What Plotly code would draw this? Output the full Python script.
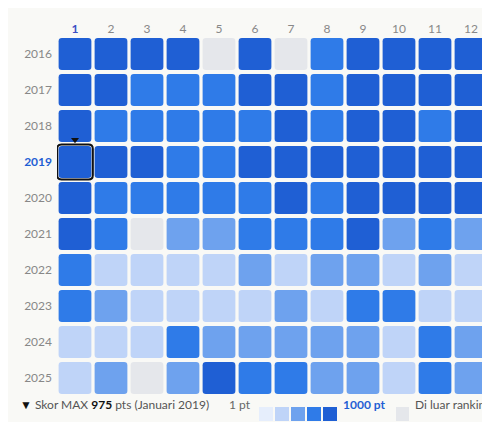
import plotly.graph_objects as go

years = [2016, 2017, 2018, 2019, 2020, 2021, 2022, 2023, 2024, 2025]
months = list(range(1, 13))
month_labels = [str(m) for m in months]
# level 1..5 (score band), 0 = out of ranking
levels = [
    [5,5,5,5,0,5,0,4,5,5,5,5],
    [5,5,4,4,4,5,5,4,5,5,5,5],
    [5,4,4,4,4,4,5,4,5,5,4,5],
    [5,5,5,4,4,5,5,5,5,5,5,5],
    [5,4,4,4,4,4,5,4,5,5,5,5],
    [5,4,0,3,3,4,4,4,5,3,4,3],
    [4,2,2,2,2,3,2,3,3,2,3,2],
    [4,3,2,2,2,2,3,2,4,4,2,2],
    [2,2,2,4,3,3,3,3,3,2,4,3],
    [2,3,0,3,5,4,4,3,3,2,4,3],
]
palette = ["#e5e7eb", "#e6eefc", "#bfd4f8", "#6ea2ee", "#2f7be8", "#1f5fd4"]
legend_levels = [1, 2, 3, 4, 5]
max_year, max_month = 2019, 1

def rrect(xc, yc, w, h, r):
    x0, x1 = xc - w/2, xc + w/2
    y0, y1 = yc - h/2, yc + h/2
    return (f"M{x0+r},{y0} L{x1-r},{y0} Q{x1},{y0} {x1},{y0+r} L{x1},{y1-r} Q{x1},{y1} {x1-r},{y1} "
            f"L{x0+r},{y1} Q{x0},{y1} {x0},{y1-r} L{x0},{y0+r} Q{x0},{y0} {x0+r},{y0} Z")

shapes = []
for yi, y in enumerate(years):
    for mi, m in enumerate(months):
        shapes.append(dict(type="path", xref="x", yref="y", path=rrect(m, y, 0.91, 0.89, 0.09),
                           fillcolor=palette[levels[yi][mi]], line=dict(width=0), layer="below"))
shapes.append(dict(type="path", xref="x", yref="y", path=rrect(max_month, max_year, 0.99, 0.97, 0.12),
                   fillcolor="rgba(0,0,0,0)", line=dict(color="#111", width=2)))

fig = go.Figure()
fig.add_trace(go.Scatter(x=[max_month], y=[max_year - 0.62], mode="markers",
                         marker=dict(symbol="triangle-down", size=7, color="#111"), hoverinfo="skip"))

# legend
def px_x(p): return (p - 49) / 432
def px_y(p): return (388 - p) / 360
ly = px_y(406)
for i, lv in enumerate(legend_levels):
    x0 = 251 + i * 16
    shapes.append(dict(type="rect", xref="paper", yref="paper", x0=px_x(x0), x1=px_x(x0 + 14),
                       y0=px_y(413), y1=px_y(399), fillcolor=palette[lv], line=dict(width=0)))
shapes.append(dict(type="rect", xref="paper", yref="paper", x0=px_x(388), x1=px_x(401),
                   y0=px_y(413), y1=px_y(399), fillcolor=palette[0], line=dict(width=0)))

ann = [
    dict(x=px_x(10), y=ly, xref="paper", yref="paper", xanchor="left", showarrow=False,
         text="▼ <span style='color:#555'>Skor MAX</span> <b>975</b> <span style='color:#555'>pts (Januari 2019)</span>",
         font=dict(size=12, color="#111")),
    dict(x=px_x(245), y=ly, xref="paper", yref="paper", xanchor="right", showarrow=False,
         text="1 pt", font=dict(size=12, color="#666")),
    dict(x=px_x(333), y=ly, xref="paper", yref="paper", xanchor="left", showarrow=False,
         text="<b>1000 pt</b>", font=dict(size=12, color="#1f5fd4")),
    dict(x=px_x(405), y=ly, xref="paper", yref="paper", xanchor="left", showarrow=False,
         text="Di luar ranking", font=dict(size=12, color="#555")),
]

ytext = [f"<b><span style='color:#1f5fd4'>{y}</span></b>" if y == max_year else str(y) for y in years]
xtext = [f"<b><span style='color:#3b4fc4'>{m}</span></b>" if int(m) == max_month else m for m in month_labels]

fig.update_layout(
    width=490, height=422, margin=dict(l=49, r=9, t=28, b=34),
    paper_bgcolor="#f9f9f6", plot_bgcolor="#f9f9f6",
    font=dict(family="Lato", size=12, color="#888"),
    shapes=shapes, annotations=ann, showlegend=False,
    xaxis=dict(range=[0.5, 12.5], side="top", tickvals=months, ticktext=xtext, showgrid=False,
               zeroline=False, showline=False, ticks="", fixedrange=True, automargin=False),
    yaxis=dict(range=[2025.5, 2015.5], tickvals=years, ticktext=ytext, showgrid=False,
               zeroline=False, showline=False, ticks="", ticklen=0, fixedrange=True,
               automargin=False, ticklabelstandoff=4),
)
fig.write_html("out.html")
